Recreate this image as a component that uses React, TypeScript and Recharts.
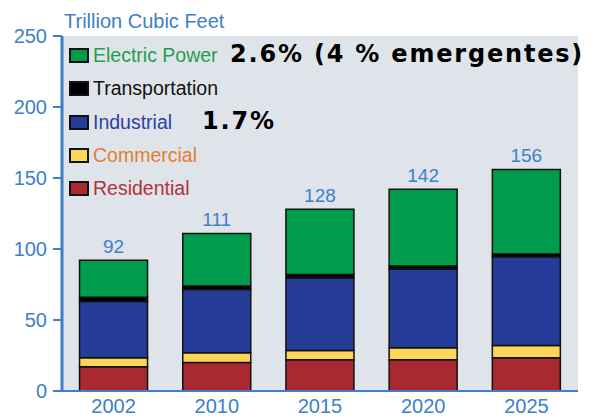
import { Bar, BarChart, CartesianGrid, LabelList, XAxis, YAxis } from "recharts";

// Trillion cubic feet
const years = ["2002", "2010", "2015", "2020", "2025"];
const residential = [17, 20, 22, 22, 23.5];
const commercial = [6.5, 7, 6.5, 8.5, 8.5];
const industrial = [39.5, 44.5, 51, 55.5, 62.5];
const transportation = [3, 2.5, 2.5, 2, 2];
const electricPower = [26, 37, 46, 54, 59.5];
const totals = [92, 111, 128, 142, 156];
const yTicks = [0, 50, 100, 150, 200, 250];

const data = years.map((year, i) => ({
  year,
  residential: residential[i],
  commercial: commercial[i],
  industrial: industrial[i],
  transportation: transportation[i],
  electric: electricPower[i],
  total: totals[i],
}));

const BLUE = "#3d80c8";
const FONT = "'Liberation Sans', Arial, sans-serif";

// bottom to top of the stack
const series = [
  { key: "residential", name: "Residential", fill: "#a8292f", text: "#b3323b" },
  { key: "commercial", name: "Commercial", fill: "#fdd55b", text: "#e67d2f" },
  { key: "industrial", name: "Industrial", fill: "#253c98", text: "#2e3f9f" },
  { key: "transportation", name: "Transportation", fill: "#000000", text: "#111111" },
  { key: "electric", name: "Electric Power", fill: "#009b4b", text: "#1f9e4c" },
];

const note: React.CSSProperties = {
  position: "absolute",
  fontFamily: "'DejaVu Sans', Verdana, sans-serif",
  fontWeight: 700,
  fontSize: 24,
  lineHeight: "24px",
  letterSpacing: 1.8,
  color: "#000",
  whiteSpace: "nowrap",
};

export default function App() {
  return (
    <div style={{ position: "absolute", left: 0, top: 0, width: 595, height: 419, background: "#fff" }}>
      <BarChart
        width={595}
        height={419}
        data={data}
        margin={{ top: 36, right: 17, left: 0, bottom: 0 }}
        barCategoryGap="17%"
        style={{ fontFamily: FONT }}
      >
        <CartesianGrid horizontal={false} vertical={false} fill="#dfe4ea" stroke="none" />
        <XAxis
          dataKey="year"
          height={28}
          tick={{ fill: BLUE, fontSize: 20 }}
          tickLine={false}
          axisLine={{ stroke: BLUE, strokeWidth: 2 }}
        />
        <XAxis
          xAxisId="top"
          orientation="top"
          dataKey="year"
          height={0}
          tick={false}
          tickLine={false}
          axisLine={{ stroke: BLUE, strokeWidth: 1.5 }}
        />
        <YAxis
          domain={[0, 250]}
          ticks={yTicks}
          width={62}
          tick={{ fill: BLUE, fontSize: 20 }}
          tickSize={9}
          tickMargin={6}
          tickLine={{ stroke: BLUE, strokeWidth: 2 }}
          axisLine={{ stroke: BLUE, strokeWidth: 3 }}
        />
        <YAxis
          yAxisId="right"
          orientation="right"
          domain={[0, 250]}
          width={0}
          tick={false}
          tickLine={false}
          axisLine={{ stroke: BLUE, strokeWidth: 1.5 }}
        />
        {series.map((s) => (
          <Bar
            key={s.key}
            dataKey={s.key}
            name={s.name}
            stackId="a"
            fill={s.fill}
            stroke="#111"
            strokeWidth={1.5}
            isAnimationActive={false}
          >
            {s.key === "electric" && (
              <LabelList dataKey="total" position="top" offset={7} fill={BLUE} fontSize={19} />
            )}
          </Bar>
        ))}
      </BarChart>

      <div
        style={{
          position: "absolute",
          left: 64,
          top: 11,
          fontFamily: FONT,
          fontSize: 20,
          lineHeight: "20px",
          color: BLUE,
          whiteSpace: "nowrap",
        }}
      >
        Trillion Cubic Feet
      </div>

      <div style={{ position: "absolute", left: 69, top: 39, fontFamily: FONT }}>
        {[...series].reverse().map((s) => (
          <div key={s.key} style={{ height: 33.3, display: "flex", alignItems: "center" }}>
            <span
              style={{
                width: 20,
                height: 15,
                boxSizing: "border-box",
                border: "2px solid #111",
                background: s.fill,
                display: "inline-block",
              }}
            />
            <span style={{ marginLeft: 4, fontSize: 19.5, color: s.text, whiteSpace: "nowrap" }}>{s.name}</span>
          </div>
        ))}
      </div>

      <div style={{ ...note, left: 230, top: 42 }}>2.6% (4 % emergentes)</div>
      <div style={{ ...note, left: 202, top: 109 }}>1.7%</div>
    </div>
  );
}
